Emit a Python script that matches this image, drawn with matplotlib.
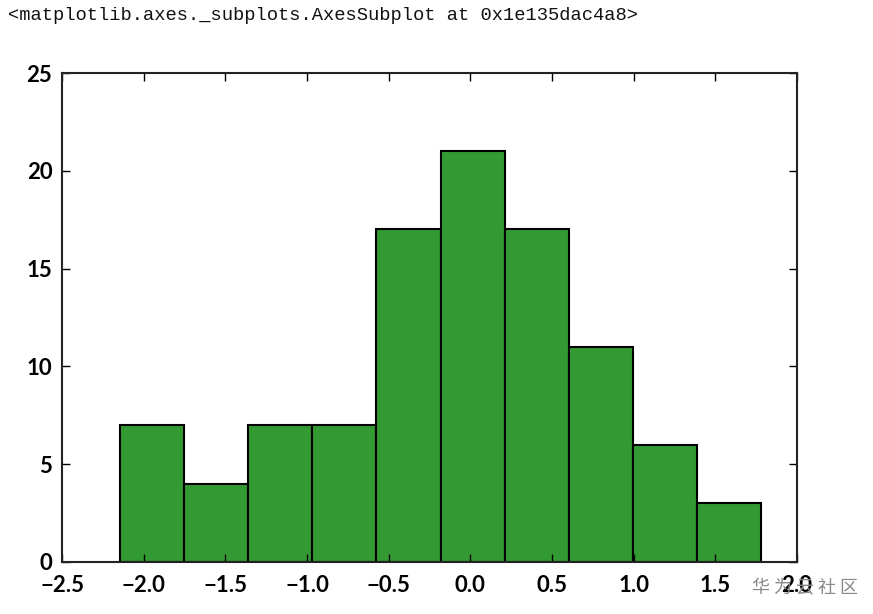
import numpy as np
import matplotlib
matplotlib.use("Agg")
import matplotlib.pyplot as plt

bin_edges = [-2.145, -1.7525, -1.36, -0.9675, -0.575, -0.1825, 0.21, 0.6025, 0.995, 1.3875, 1.78]
counts = [7, 4, 7, 7, 17, 21, 17, 11, 6, 3]
xticks = [-2.5, -2.0, -1.5, -1.0, -0.5, 0.0, 0.5, 1.0, 1.5, 2.0]
yticks = [0, 5, 10, 15, 20, 25]
header = "<matplotlib.axes._subplots.AxesSubplot at 0x1e135dac4a8>"
watermark = "华 为 云 社 区"

fig = plt.figure(figsize=(8.73, 6.14), dpi=100)
ax = fig.add_axes([62/873, 1-562/614, (797-62)/873, (562-73)/614])

edges = np.array(bin_edges)
ax.bar(edges[:-1], counts, width=np.diff(edges), align="edge",
       color="#339933", edgecolor="black", linewidth=1.5)

ax.set_xlim(-2.5, 2.0)
ax.set_ylim(0, 25)
ax.set_xticks(xticks)
ax.set_yticks(yticks)
ax.set_xticklabels([f"{t:.1f}".replace("-", "\u2212") for t in xticks])
ax.set_yticklabels([str(t) for t in yticks])
ax.tick_params(direction="in", top=True, right=True, length=6, width=1,
               labelsize=16, pad=7)
ax.tick_params(axis="x", pad=9)
for lab in ax.get_xticklabels() + ax.get_yticklabels():
    lab.set_fontfamily("Lato")
    lab.set_fontweight("bold")
for s in ax.spines.values():
    s.set_linewidth(1.5)
    s.set_color("#222222")

fig.text(8/873, 1-15/614, header, family="Liberation Mono", fontsize=13.5,
         va="center", ha="left", color="#111111")
fig.text(752/873, 1-588/614, watermark, family=["Noto Sans CJK SC", "DejaVu Sans"],
         fontsize=13, va="center", ha="left", color="#888888")

fig.savefig("out.png", dpi=100)
